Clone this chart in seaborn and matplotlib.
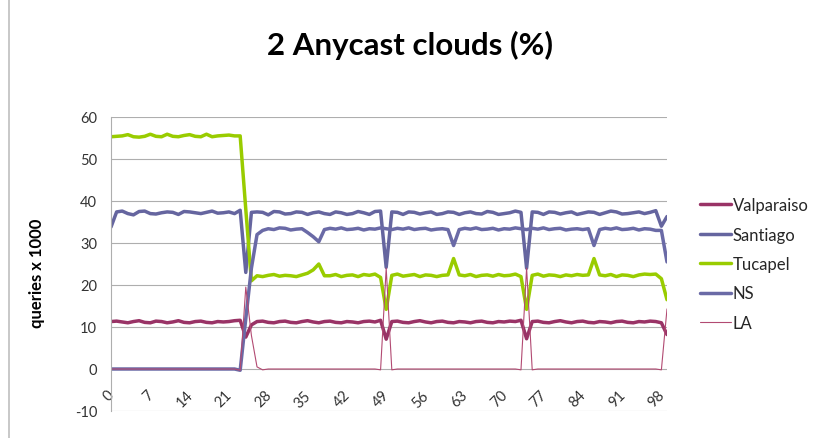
import numpy as np
import pandas as pd
import seaborn as sns
from matplotlib import pyplot as plt
from matplotlib.lines import Line2D
import matplotlib.transforms as mtransforms

# days 0..99
days = list(range(100))
xtick_values = list(range(0, 99, 7))
ytick_values = list(range(-10, 61, 10))

valparaiso = [11.3, 11.4, 11.2, 11.0, 11.3, 11.5, 11.1, 11.0, 11.4, 11.3,
              11.0, 11.2, 11.5, 11.1, 11.0, 11.3, 11.4, 11.1, 11.0, 11.3,
              11.2, 11.3, 11.5, 11.6, 7.6, 10.5, 11.3, 11.4, 11.1, 11.0,
              11.3, 11.4, 11.1, 11.0, 11.3, 11.5, 11.2, 11.0, 11.3, 11.4,
              11.1, 11.0, 11.3, 11.2, 11.0, 11.3, 11.4, 11.2, 11.6, 7.1,
              11.3, 11.4, 11.1, 11.0, 11.3, 11.5, 11.2, 11.0, 11.3, 11.4,
              11.1, 11.0, 11.3, 11.2, 11.0, 11.3, 11.4, 11.1, 11.0, 11.3,
              11.2, 11.4, 11.3, 11.6, 7.2, 11.3, 11.4, 11.1, 11.0, 11.3,
              11.5, 11.2, 11.0, 11.3, 11.4, 11.1, 11.0, 11.3, 11.2, 11.0,
              11.3, 11.4, 11.1, 11.0, 11.3, 11.2, 11.4, 11.3, 11.0, 8.2]

santiago = [33.8, 37.4, 37.6, 37.0, 36.7, 37.5, 37.6, 37.0, 36.9, 37.2,
            37.4, 37.3, 36.8, 37.5, 37.4, 37.2, 37.0, 37.3, 37.6, 37.1,
            37.2, 37.4, 37.0, 37.8, 23.0, 37.3, 37.4, 37.3, 36.7, 37.5,
            37.4, 36.9, 37.0, 37.4, 37.3, 36.8, 37.2, 37.4, 37.0, 36.8,
            37.4, 37.2, 36.8, 37.0, 37.5, 37.2, 36.8, 37.5, 37.6, 24.2,
            37.4, 37.3, 36.8, 37.4, 37.3, 36.9, 37.2, 37.4, 36.8, 37.0,
            37.4, 37.3, 36.8, 37.2, 37.4, 37.0, 36.9, 37.5, 37.3, 36.8,
            37.0, 37.2, 37.6, 37.3, 24.0, 37.4, 37.3, 36.8, 37.4, 37.3,
            36.9, 37.2, 37.4, 36.8, 37.1, 37.4, 37.3, 36.8, 37.2, 37.6,
            37.4, 36.9, 37.0, 37.2, 37.4, 37.0, 37.3, 37.7, 34.0, 36.3]

tucapel = [55.3, 55.4, 55.5, 55.8, 55.3, 55.2, 55.4, 55.9, 55.4, 55.3,
           55.9, 55.4, 55.3, 55.6, 55.8, 55.4, 55.3, 55.9, 55.3, 55.5,
           55.6, 55.7, 55.5, 55.5, 38.0, 21.0, 22.2, 22.0, 22.3, 22.5,
           22.1, 22.3, 22.2, 22.0, 22.4, 22.8, 23.6, 25.0, 22.2, 22.2,
           22.5, 22.0, 22.3, 22.4, 22.0, 22.5, 22.3, 22.6, 21.8, 14.2,
           22.3, 22.6, 22.1, 22.3, 22.5, 22.0, 22.4, 22.3, 22.0, 22.3,
           22.4, 26.3, 22.4, 22.2, 22.5, 22.0, 22.3, 22.4, 22.1, 22.5,
           22.2, 22.3, 22.6, 22.0, 14.2, 22.3, 22.6, 22.1, 22.4, 22.3,
           22.0, 22.4, 22.2, 22.5, 22.3, 22.4, 26.3, 22.4, 22.2, 22.5,
           22.0, 22.4, 22.3, 22.0, 22.4, 22.6, 22.5, 22.6, 21.5, 16.5]

ns = [0.0, 0.0, 0.0, 0.0, 0.0, 0.0, 0.0, 0.0, 0.0, 0.0,
      0.0, 0.0, 0.0, 0.0, 0.0, 0.0, 0.0, 0.0, 0.0, 0.0,
      0.0, 0.0, 0.0, -0.3, 12.0, 24.0, 32.0, 33.0, 33.4, 33.2,
      33.6, 33.5, 33.1, 33.3, 33.4, 32.5, 31.5, 30.3, 33.2, 33.5,
      33.3, 33.6, 33.2, 33.3, 33.5, 33.1, 33.4, 33.3, 33.6, 33.4,
      33.2, 33.5, 33.3, 33.6, 33.2, 33.4, 33.5, 33.1, 33.3, 33.4,
      33.2, 29.4, 33.2, 33.5, 33.3, 33.6, 33.2, 33.3, 33.5, 33.1,
      33.4, 33.3, 33.6, 33.4, 33.2, 33.5, 33.3, 33.6, 33.2, 33.4,
      33.5, 33.1, 33.3, 33.4, 33.2, 33.4, 29.4, 33.2, 33.5, 33.3,
      33.6, 33.2, 33.3, 33.5, 33.1, 33.4, 33.3, 33.0, 33.0, 25.5]

la = [0.0, 0.0, 0.0, 0.0, 0.0, 0.0, 0.0, 0.0, 0.0, 0.0,
      0.0, 0.0, 0.0, 0.0, 0.0, 0.0, 0.0, 0.0, 0.0, 0.0,
      0.0, 0.0, 0.0, -0.3, 19.5, 8.0, 0.5, -0.2, 0.0, 0.0,
      0.0, 0.0, 0.0, 0.0, 0.0, 0.0, 0.0, 0.0, 0.0, 0.0,
      0.0, 0.0, 0.0, 0.0, 0.0, 0.0, 0.0, 0.0, -0.2, 24.0,
      -0.2, 0.0, 0.0, 0.0, 0.0, 0.0, 0.0, 0.0, 0.0, 0.0,
      0.0, 0.0, 0.0, 0.0, 0.0, 0.0, 0.0, 0.0, 0.0, 0.0,
      0.0, 0.0, 0.0, -0.2, 24.0, -0.2, 0.0, 0.0, 0.0, 0.0,
      0.0, 0.0, 0.0, 0.0, 0.0, 0.0, 0.0, 0.0, 0.0, 0.0,
      0.0, 0.0, 0.0, 0.0, 0.0, 0.0, 0.0, 0.0, -0.2, 14.3]

series = [("Valparaiso", valparaiso, "#993366", 2.5),
          ("Santiago", santiago, "#65659F", 2.5),
          ("Tucapel", tucapel, "#99CC00", 2.5),
          ("NS", ns, "#6A6AA6", 2.5),
          ("LA", la, "#B24A72", 0.8)]


def plot_data(filename):
    sns.set_theme(style="white")
    plt.rcParams["font.family"] = ["Lato", "DejaVu Sans"]
    plt.rcParams["axes.unicode_minus"] = False

    fig = plt.figure(figsize=(8.2, 4.39), dpi=100)
    ax = fig.add_axes([111 / 820, 1 - 412 / 439, 556 / 820, 294 / 439])

    for name, values, color, lw in series:
        df = pd.DataFrame({"day": days, "value": values})
        sns.lineplot(data=df, x="day", y="value", color=color, linewidth=lw,
                     label=name, ax=ax, solid_joinstyle="round")

    ax.set_xlim(0, 99)
    ax.set_ylim(-10, 60)
    ax.set_yticks(ytick_values)
    ax.set_xticks(xtick_values)
    ax.grid(axis="y", color="#AEAEAE", linewidth=0.8)
    ax.grid(axis="x", visible=False)
    ax.set_axisbelow(True)

    for side in ["top", "right"]:
        ax.spines[side].set_visible(False)
    ax.spines["left"].set_color("#AEAEAE")
    ax.spines["left"].set_linewidth(0.8)
    # category labels sit under the zero line, like Excel
    ax.spines["bottom"].set_position(("data", 0))
    ax.spines["bottom"].set_visible(False)

    ax.tick_params(axis="y", length=0, pad=10, labelsize=10.5, labelcolor="#333333")
    ax.tick_params(axis="x", length=0, pad=17, labelsize=10.5, labelcolor="#333333")
    shift = mtransforms.ScaledTranslation(1 / 100, 0, fig.dpi_scale_trans)
    for lab in ax.get_xticklabels():
        lab.set_rotation(45)
        lab.set_ha("right")
        lab.set_va("center")
        lab.set_rotation_mode("anchor")
        lab.set_transform(lab.get_transform() + shift)

    ax.set_xlabel("")
    ax.set_ylabel("queries x 1000", fontsize=12, fontweight="bold", color="black")
    ax.yaxis.set_label_coords(-66 / 556, 0.473)

    fig.text(410 / 820, 1 - 45 / 439, "2 Anycast clouds (%)", ha="center", va="center",
             fontsize=22.5, fontweight="bold", color="black")

    ax.legend(loc="center left", bbox_to_anchor=(692 / 820, 1 - 265 / 439),
              bbox_transform=fig.transFigure, frameon=False, fontsize=12,
              handlelength=1.85, handletextpad=0.1, labelspacing=0.8, borderpad=0)

    # chart border (only the left edge is inside the picture)
    fig.add_artist(Line2D([8.5 / 820, 8.5 / 820], [0, 1], color="#BFBFBF", linewidth=1.2))

    plt.savefig(filename, dpi=100)
    print("Figure saved.")


plot_data("out.png")
